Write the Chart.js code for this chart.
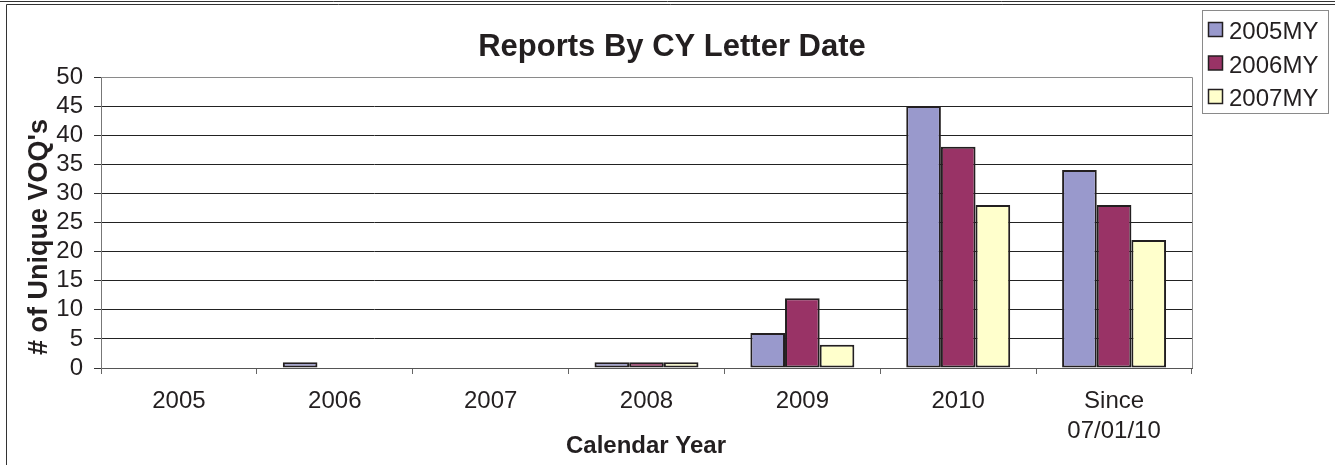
<!DOCTYPE html>
<html>
<head>
<meta charset="utf-8">
<script src="https://cdn.jsdelivr.net/npm/chart.js@4.4.1/dist/chart.umd.min.js"></script>
<style>
  html, body { margin: 0; padding: 0; background: #fff; }
  #wrap { width: 1335px; height: 465px; position: relative; }
</style>
</head>
<body>
<div id="wrap"><canvas id="c" width="1335" height="465"></canvas></div>
<script>
const categories = ["2005", "2006", "2007", "2008", "2009", "2010", ["Since", "07/01/10"]];
const seriesNames = ["2005MY", "2006MY", "2007MY"];
const values2005MY = [0, 1, 0, 1, 6, 45, 34];
const values2006MY = [0, 0, 0, 1, 12, 38, 28];
const values2007MY = [0, 0, 0, 1, 4, 28, 22];
const seriesColors = ["#9999CC", "#993366", "#FFFFCC"];
const yTicks = [0, 5, 10, 15, 20, 25, 30, 35, 40, 45, 50];
const chartTitle = "Reports By CY Letter Date";
const xTitle = "Calendar Year";
const yTitle = "# of Unique VOQ's";

const FONT = "'Liberation Sans', Arial, sans-serif";
const INK = "#231f20";

const decor = {
  id: 'decor',
  beforeDraw(chart) {
    const ctx = chart.ctx;
    ctx.save();
    ctx.fillStyle = '#fff';
    ctx.fillRect(0, 0, chart.width, chart.height);
    ctx.strokeStyle = '#333';
    ctx.lineWidth = 1;
    ctx.beginPath();
    ctx.moveTo(0, 1.5); ctx.lineTo(chart.width, 1.5);
    ctx.moveTo(6.5, 4.5); ctx.lineTo(chart.width, 4.5);
    ctx.moveTo(6.5, 4.5); ctx.lineTo(6.5, chart.height);
    ctx.stroke();
    ctx.restore();
  },
  afterDraw(chart) {
    const ctx = chart.ctx;
    const a = chart.chartArea;
    ctx.save();
    ctx.strokeStyle = '#8a8a8a';
    ctx.lineWidth = 1;
    ctx.beginPath();
    ctx.moveTo(a.left, a.top + 0.5); ctx.lineTo(a.right + 0.5, a.top + 0.5);
    ctx.lineTo(a.right + 0.5, a.bottom);
    ctx.stroke();
    ctx.fillStyle = INK;
    ctx.font = "bold 31px " + FONT;
    ctx.textAlign = 'center';
    ctx.textBaseline = 'alphabetic';
    ctx.fillText(chartTitle, 672, 56);
    ctx.font = "bold 24px " + FONT;
    ctx.fillText(xTitle, 646, 453);
    ctx.save();
    ctx.translate(47, 237);
    ctx.rotate(-Math.PI / 2);
    ctx.font = "bold 27px " + FONT;
    ctx.fillText(yTitle, 0, 0);
    ctx.restore();
    const lx = 1202, ly = 10, lw = 126, lh = 103;
    ctx.strokeStyle = '#8a8a8a';
    ctx.lineWidth = 1;
    ctx.strokeRect(lx + 0.5, ly + 0.5, lw, lh);
    ctx.font = "24px " + FONT;
    ctx.textAlign = 'left';
    chart.data.datasets.forEach((ds, i) => {
      const cy = 30 + i * 33.5;
      ctx.fillStyle = ds.backgroundColor;
      ctx.fillRect(lx + 6.5, cy - 7.5, 14, 14);
      ctx.strokeStyle = INK;
      ctx.lineWidth = 1.5;
      ctx.strokeRect(lx + 6.5, cy - 7.5, 14, 14);
      ctx.fillStyle = INK;
      ctx.textBaseline = 'alphabetic';
      ctx.fillText(ds.label, lx + 27, cy + 9);
    });
    ctx.restore();
  }
};

const seriesValues = [values2005MY, values2006MY, values2007MY];

new Chart(document.getElementById('c'), {
  type: 'bar',
  data: {
    labels: categories,
    datasets: seriesNames.map((n, i) => ({
      label: n,
      data: seriesValues[i],
      backgroundColor: seriesColors[i],
      borderColor: INK,
      borderWidth: 2,
      borderSkipped: false,
      categoryPercentage: 0.667,
      barPercentage: 1.0
    }))
  },
  options: {
    responsive: false,
    animation: false,
    devicePixelRatio: 1,
    layout: { padding: { top: 77, right: 143, left: 0, bottom: 0 } },
    plugins: { legend: { display: false }, title: { display: false }, tooltip: { enabled: false } },
    scales: {
      x: {
        afterFit(scale) { scale.height = 97; },
        grid: { display: true, drawOnChartArea: false, drawTicks: true, tickLength: 6, offset: true, tickColor: '#666', color: '#666' },
        border: { display: true, color: '#555', width: 1 },
        ticks: { color: INK, font: { family: FONT, size: 24, lineHeight: 1.25 }, padding: 12, maxRotation: 0, autoSkip: false }
      },
      y: {
        min: 0, max: 50,
        afterFit(scale) { scale.width = 101; },
        afterBuildTicks(scale) { scale.ticks = yTicks.map(v => ({ value: v })); },
        grid: {
          drawTicks: true, tickLength: 7,
          color: (c) => (c.tick && c.tick.value === 50) ? '#8a8a8a' : '#222',
          tickColor: '#333', lineWidth: 1
        },
        border: { display: true, color: '#777', width: 1 },
        ticks: { color: INK, font: { family: FONT, size: 24 }, padding: 11, autoSkip: false, stepSize: 5 }
      }
    }
  },
  plugins: [decor]
});
</script>
</body>
</html>
